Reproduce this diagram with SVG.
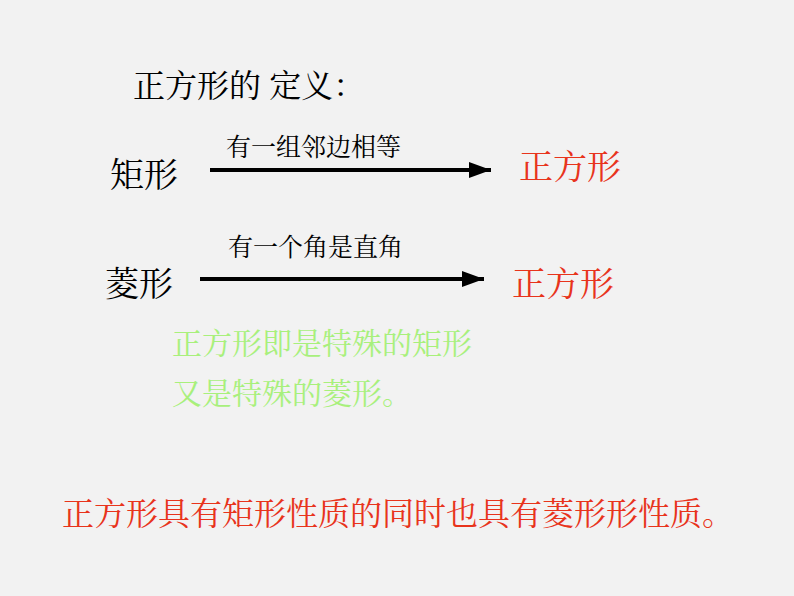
<svg xmlns="http://www.w3.org/2000/svg" width="794" height="596" viewBox="0 0 794 596">
<style>
text{font-family:"Noto Serif CJK SC","Noto Sans CJK SC",serif}
.b{fill:#000}.r{fill:#e8341c}.g{fill:#a8f07c}
.ln{stroke:#000;stroke-width:4}
</style>
<defs>
<marker id="h" viewBox="0 0 10 10" refX="10" refY="5" markerWidth="22" markerHeight="16" markerUnits="userSpaceOnUse" preserveAspectRatio="none" orient="auto"><path d="M0,0L10,5L0,10z" fill="#000"/></marker></defs>
<rect width="794" height="596" fill="#f2f2f2"/>
<text x="133" y="97" font-size="32" class="b">正方形的 定义：</text>
<g id="n1"><text x="110" y="187" font-size="34" class="b">矩形</text></g>
<g id="n2"><text x="519" y="179" font-size="34" class="r">正方形</text></g>
<g id="n3"><text x="105" y="296" font-size="34" class="b">菱形</text></g>
<g id="n4"><text x="512" y="296" font-size="34" class="r">正方形</text></g>
<g id="edges">
<line x1="210" y1="170" x2="491" y2="170" class="ln" marker-end="url(#h)"/>
<line x1="200" y1="279" x2="484" y2="279" class="ln" marker-end="url(#h)"/>
<text x="226" y="156" font-size="25" class="b">有一组邻边相等</text>
<text x="228" y="256" font-size="25" class="b">有一个角是直角</text>
</g>
<text x="172" y="354" font-size="30" class="g">正方形即是特殊的矩形</text>
<text x="172" y="404" font-size="30" class="g">又是特殊的菱形。</text>
<text x="62" y="525" font-size="32" class="r">正方形具有矩形性质的同时也具有菱形形性质。</text>
</svg>
